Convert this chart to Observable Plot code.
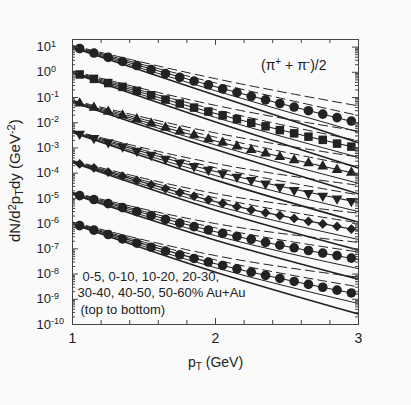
<!DOCTYPE html>
<html><head><meta charset="utf-8">
<script src="https://cdn.jsdelivr.net/npm/d3@7"></script>
<script src="https://cdn.jsdelivr.net/npm/@observablehq/plot@0.6"></script>
<style>
html,body{margin:0;padding:0;background:#fafafa;}
#chart{width:411px;height:405px;}
</style></head><body><div id="chart"></div>
<script>
// ---- data ----
const pT = [1.05,1.15,1.25,1.35,1.45,1.55,1.65,1.75,1.85,1.95,2.05,2.15,2.25,2.35,2.45,2.55,2.65,2.75,2.85,2.95];
const centralities = ["0-5","0-10","10-20","20-30","30-40","40-50","50-60"];
const c0_5   = [8.8,5.8,3.9,2.7,1.86,1.29,0.89,0.63,0.45,0.32,0.22,0.158,0.112,0.081,0.058,0.042,0.030,0.022,0.016,0.0117];
const c0_10  = [0.82,0.55,0.376,0.265,0.184,0.123,0.083,0.058,0.040,0.0278,0.0196,0.0139,0.0099,0.0072,0.0051,0.0038,0.0028,0.0021,0.00149,0.00113];
const c10_20 = [0.058,0.0397,0.0273,0.0196,0.0137,0.0094,0.0064,0.0045,0.0032,0.00223,0.00161,0.00115,0.00083,0.00061,0.00044,0.00033,0.00025,0.000188,0.000136,0.000105];
const c20_30 = [0.00362,0.00247,0.00168,0.00115,0.00077,0.00053,0.00037,0.00026,0.000189,0.000136,0.000099,0.000072,0.000053,0.0000386,0.0000286,0.0000215,0.0000164,0.0000126,0.0000098,0.0000078];
const c30_40 = [2.33e-4,1.61e-4,1.10e-4,7.6e-5,5.2e-5,3.5e-5,2.45e-5,1.71e-5,1.22e-5,8.8e-6,6.4e-6,4.7e-6,3.5e-6,2.7e-6,2.1e-6,1.6e-6,1.23e-6,9.7e-7,7.7e-7,6.1e-7];
const c40_50 = [1.29e-5,9.0e-6,6.2e-6,4.3e-6,3.0e-6,2.1e-6,1.47e-6,1.05e-6,7.6e-7,5.6e-7,4.1e-7,3.1e-7,2.4e-7,1.8e-7,1.4e-7,1.1e-7,8.6e-8,6.8e-8,5.4e-8,4.3e-8];
const c50_60 = [8.3e-7,5.5e-7,3.7e-7,2.47e-7,1.68e-7,1.16e-7,8.1e-8,5.8e-8,4.15e-8,3.0e-8,2.19e-8,1.61e-8,1.19e-8,8.9e-9,6.7e-9,5.1e-9,3.9e-9,3.0e-9,2.3e-9,1.78e-9];
const seriesValues = [c0_5,c0_10,c10_20,c20_30,c30_40,c40_50,c50_60];
const seriesSymbols = ["circle","square","triangle","triangle","diamond2","circle","circle"];
const seriesRotate = [0,0,0,180,0,0,0];
const seriesSize = [4.8,4.8,4,4,4.4,4.8,4.8];

// model curves: value of the central curve at pT nodes, and spread of each curve (decades)
const curveNodes = [1,2,3];
const curveCentre = [
  [10.5,0.268,0.0097],
  [1.03,0.0234,0.00097],
  [0.0713,0.00189,9.1e-5],
  [0.00447,1.16e-4,6.9e-6],
  [2.88e-4,7.45e-6,5.4e-7],
  [1.59e-5,4.8e-7,3.76e-8],
  [1.05e-6,2.58e-8,1.56e-9]
];
const curveSpread = [
  [0.04,0.32,0.68],
  [0.02,0.15,0.30],
  [0,0,0],
  [-0.02,-0.16,-0.36],
  [-0.04,-0.34,-0.78]
];
const curveDash = ["9,5","9,5",null,null,null];
const curveWidth = [1,1,1.1,1,1.6];

const yMajor = [1e1,1e0,1e-1,1e-2,1e-3,1e-4,1e-5,1e-6,1e-7,1e-8,1e-9,1e-10];
const xTickLabels = [1,2,3];
const xMinor = [1.2,1.4,1.6,1.8,2.2,2.4,2.6,2.8];
const xMajor = [2];

// ---- build tables ----
const points = seriesValues.flatMap((vals,i)=>vals.map((v,j)=>({pT:pT[j], v, s:i})));
const curves = curveSpread.map((sp,c)=>curveCentre.flatMap((cen,i)=>curveNodes.map((x,k)=>({pT:x, v:cen[k]*Math.pow(10,sp[k]), s:i}))));
const yMinor = yMajor.flatMap(d=>[2,3,4,5,6,7,8,9].map(k=>d*k)).filter(v=>v<20);

const plotH = 285, plotW = 286;
const ink = "#222";
const frameInk = "#444";

const marks = [];
curves.forEach((rows,c)=>{
  marks.push(Plot.line(rows,{x:"pT", y:"v", z:"s", curve:"natural", stroke:ink, strokeWidth:curveWidth[c], strokeDasharray:curveDash[c], clip:true}));
});
seriesValues.forEach((vals,i)=>{
  marks.push(Plot.dot(points.filter(d=>d.s===i),{x:"pT", y:"v", symbol:seriesSymbols[i], rotate:seriesRotate[i], r:seriesSize[i], fill:ink, stroke:"none"}));
});
// ticks, inward on all sides
marks.push(
  Plot.tickY(yMajor,{y:d=>d, insetRight:plotW-6, stroke:frameInk}),
  Plot.tickY(yMajor,{y:d=>d, insetLeft:plotW-6, stroke:frameInk}),
  Plot.tickY(yMinor,{y:d=>d, insetRight:plotW-3, stroke:frameInk}),
  Plot.tickY(yMinor,{y:d=>d, insetLeft:plotW-3, stroke:frameInk}),
  Plot.tickX(xMinor,{x:d=>d, insetBottom:plotH-4, stroke:frameInk}),
  Plot.tickX(xMinor,{x:d=>d, insetTop:plotH-4, stroke:frameInk}),
  Plot.tickX(xMajor,{x:d=>d, insetBottom:plotH-6, stroke:frameInk}),
  Plot.tickX(xMajor,{x:d=>d, insetTop:plotH-6, stroke:frameInk}),
  Plot.frame({stroke:frameInk})
);
// tick labels and texts
marks.push(
  Plot.text(yMajor,{y:d=>d, text:d=>"10^"+Math.round(Math.log10(d)), frameAnchor:"left", textAnchor:"start", dx:-36, fontSize:13, fill:"#222"}),
  Plot.text(xTickLabels,{x:d=>d, text:d=>String(d), frameAnchor:"bottom", dy:18, fontSize:14, fill:"#222"}),
  Plot.text(["pT (GeV)"],{text:d=>d, frameAnchor:"bottom", dy:42, fontSize:14, fill:"#222"}),
  Plot.text(["dN/d2pTdy (GeV-2)"],{text:d=>d, frameAnchor:"left", textAnchor:"start", rotate:-90, dx:-57, dy:60, fontSize:15, fill:"#222"}),
  Plot.text(["(pi+ + pi-)/2"],{text:d=>d, frameAnchor:"top-right", textAnchor:"end", dx:-32, dy:21, fontSize:14, fill:"#222"}),
  Plot.text(["0-5, 0-10, 10-20, 20-30,"],{text:d=>d, frameAnchor:"bottom-left", textAnchor:"start", dx:10, dy:-44, fontSize:13, fill:"#222"}),
  Plot.text(["30-40, 40-50, 50-60% Au+Au"],{text:d=>d, frameAnchor:"bottom-left", textAnchor:"start", dx:5, dy:-27.5, fontSize:13, fill:"#222"}),
  Plot.text(["(top to bottom)"],{text:d=>d, frameAnchor:"bottom-left", textAnchor:"start", dx:8, dy:-11, fontSize:13, fill:"#222"})
);

const chart = Plot.plot({
  width:411, height:405,
  marginLeft:72, marginRight:53, marginTop:39, marginBottom:81,
  style:{background:"#fafafa", fontFamily:"'Liberation Sans', Arial, sans-serif"},
  x:{domain:[1,3], axis:null},
  y:{type:"log", domain:[1e-10,20], axis:null},
  marks
});
document.getElementById("chart").appendChild(chart);

// rich text (super/subscripts)
const sup = (s,up=4.5,size=9)=>`<tspan dy="-${up}" font-size="${size}">${s}</tspan>`;
chart.querySelectorAll("text").forEach(t=>{
  const s = t.textContent;
  let m = s.match(/^10\^(-?\d+)$/);
  if (m) { t.innerHTML = `10${sup(m[1])}`; return; }
  if (s==="pT (GeV)") { t.innerHTML = `p<tspan dy="3" font-size="10">T</tspan><tspan dy="-3"> (GeV)</tspan>`; return; }
  if (s==="dN/d2pTdy (GeV-2)") { t.innerHTML = `dN/d<tspan dy="-4" font-size="11">2</tspan><tspan dy="4">p</tspan><tspan dy="3" font-size="11">T</tspan><tspan dy="-3">dy (GeV</tspan><tspan dy="-5" font-size="11">-2</tspan><tspan dy="5">)</tspan>`; return; }
  if (s==="(pi+ + pi-)/2") { t.innerHTML = `(π<tspan dy="-5" font-size="10">+</tspan><tspan dy="5"> + π</tspan><tspan dy="-5" font-size="10">-</tspan><tspan dy="5">)/2</tspan>`; return; }
});
</script></body></html>
